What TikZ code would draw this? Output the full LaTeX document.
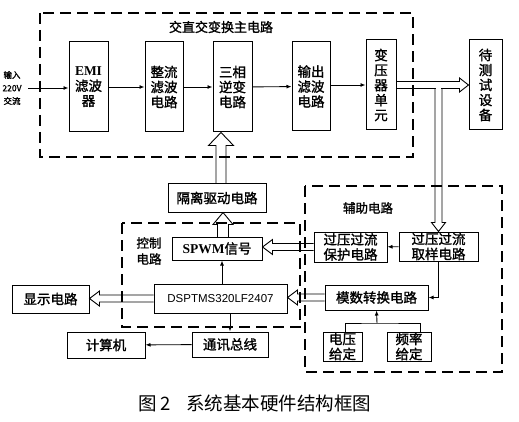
\documentclass[tikz,border=0pt]{standalone}
\usepackage{fontspec}
\setmainfont{Noto Sans CJK SC}
\newfontfamily\bcjk{Noto Sans CJK SC}[FakeBold=1.5]
\newfontfamily\lsans{Liberation Sans}
\newfontfamily\lserif{Liberation Serif}
\usetikzlibrary{calc,arrows.meta}

% #1 start, #2 tip, #3 shaft half width, #4 head half width, #5 head length
\newcommand\hollowarrow[5]{%
  \path ($(#2)!#5!(#1)$) coordinate (hb);
  \draw[hollow] ($(#1)!#3!90:(#2)$) -- ($(hb)!#3!90:(#2)$) -- ($(hb)!#4!90:(#2)$) -- (#2)
     -- ($(hb)!#4!-90:(#2)$) -- ($(hb)!#3!-90:(#2)$) -- ($(#1)!#3!-90:(#2)$);
}

\tikzset{
  box/.style={draw, line width=1pt, inner sep=0pt, align=center,
     font=\bcjk\fontsize{13.5}{15}\selectfont},
  group/.style={draw, line width=1.3pt, dash pattern=on 11pt off 6pt},
  lbl/.style={inner sep=0pt, align=center, font=\bcjk\fontsize{13}{15}\selectfont},
  arr/.style={line width=0.9pt, -{Latex[length=5pt,width=4pt]}},
  wire/.style={line width=0.9pt},
  hollow/.style={line width=0.9pt, line join=miter},
}

\begin{document}
\begin{tikzpicture}[x=1pt,y=-1pt]
\useasboundingbox (0,0) rectangle (519,422);

% dashed groups
\draw[group] (40,13) rectangle (413,157);
\draw[group] (122,223) rectangle (300,327);
\draw[group] (305,186) rectangle (502,372);

\node[lbl] (tmain) at (221,27) {交直交变换主电路};
\node[lbl, font=\bcjk\fontsize{12.5}{16}\selectfont] (tctrl) at (149,251) {控制\\电路};
\node[lbl, font=\bcjk\fontsize{12.5}{15}\selectfont] (taux) at (368,208) {辅助电路};

% main circuit
\node[box, minimum width=39, minimum height=90] (emi) at (88.5,87) {{\lserif\bfseries EMI}\\滤波\\器};
\node[box, minimum width=38, minimum height=90] (rect) at (164,87) {整流\\滤波\\电路};
\node[box, minimum width=39, minimum height=90] (inv) at (232.5,87) {三相\\逆变\\电路};
\node[box, minimum width=38, minimum height=89] (outf) at (311,86.5) {输出\\滤波\\电路};
\node[box, minimum width=30, minimum height=90] (trans) at (381,85) {变\\压\\器\\单\\元};
\node[box, minimum width=33, minimum height=90] (dut) at (485.5,85) {待\\测\\试\\设\\备};

\node[inner sep=0pt, align=center, font=\bcjk\fontsize{8.5}{13}\selectfont] (inp) at (12,88) {输入\\220V\\交流};
\coordinate (inpend) at (28,88);

% control
\node[box, minimum width=98, minimum height=28] (iso) at (217,198) {隔离驱动电路};
\node[box, minimum width=90, minimum height=23] (spwm) at (217,248.5) {{\lserif\bfseries SPWM}信号};
\node[box, minimum width=133, minimum height=29, font=\lsans\fontsize{11.5}{13}\selectfont] (dsp) at (220.5,298.5) {DSPTMS320LF2407};
\node[box, minimum width=77, minimum height=28] (disp) at (50.5,299) {显示电路};
\node[box, minimum width=76, minimum height=25] (comm) at (230,344.5) {通讯总线};
\node[box, minimum width=78, minimum height=26] (pc) at (106,345) {计算机};

% auxiliary
\node[box, minimum width=73, minimum height=30] (prot) at (350.5,247) {过压过流\\保护电路};
\node[box, minimum width=79, minimum height=29] (samp) at (438.5,246.5) {过压过流\\取样电路};
\node[box, minimum width=103, minimum height=25] (adc) at (376.5,297.5) {模数转换电路};
\node[box, minimum width=39, minimum height=29] (volt) at (342.5,346.5) {电压\\给定};
\node[box, minimum width=44, minimum height=29] (freq) at (409,346.5) {频率\\给定};

% thin connectors
\draw[arr] (inpend) -- (emi.west |- inpend);
\draw[arr] (emi) -- (rect);
\draw[arr] (rect) -- (inv);
\draw[arr] (inv) -- (outf);
\draw[arr] (outf.east |- trans) -- (trans);
\draw[arr] (samp) -- (prot);
\draw[arr] (samp.south) |- (adc.east);
\coordinate (dspup) at (222,283.5);
\draw[arr] (dspup) -- (dspup |- spwm.south);
\coordinate (dspdn) at (230,313);
\draw[arr] (dspdn) -- (comm.north);
\draw[arr] (comm) -- (pc);
\coordinate (tj) at (377,323);
\draw[wire] ([xshift=3pt]volt.north) |- (tj) -| ([xshift=11pt]freq.north);
\draw[arr] (tj) -- (adc.south);

% hollow arrows
\coordinate (isotop) at (221,184);
\hollowarrow{isotop}{isotop |- inv.south}{5pt}{12.5pt}{13pt}
\coordinate (spwmtop) at (223,237);
\hollowarrow{spwmtop}{spwmtop |- iso.south}{5.5pt}{10pt}{12pt}
\hollowarrow{prot.west}{spwm.east |- prot.west}{3.5pt}{7.5pt}{10pt}
\hollowarrow{adc.west}{dsp.east |- adc.west}{3.5pt}{7.5pt}{10pt}
\hollowarrow{dsp.west}{disp.east |- dsp.west}{3.5pt}{7.5pt}{10pt}
\hollowarrow{trans.east}{dut.west |- trans.east}{3.5pt}{7pt}{9pt}
\coordinate (brtop) at ($(samp.north |- trans.east)+(0,3.5)$);
\hollowarrow{brtop}{samp.north}{3.5pt}{7pt}{9pt}
\draw[white, line width=1.6pt] ($(brtop)+(-2.9,0)$) -- ($(brtop)+(2.9,0)$);

% caption
\node[inner sep=0pt, font=\fontsize{18.5}{21}\selectfont] (cap) at (255,403) {图\,2\hspace{16pt}系统基本硬件结构框图};
\end{tikzpicture}
\end{document}
